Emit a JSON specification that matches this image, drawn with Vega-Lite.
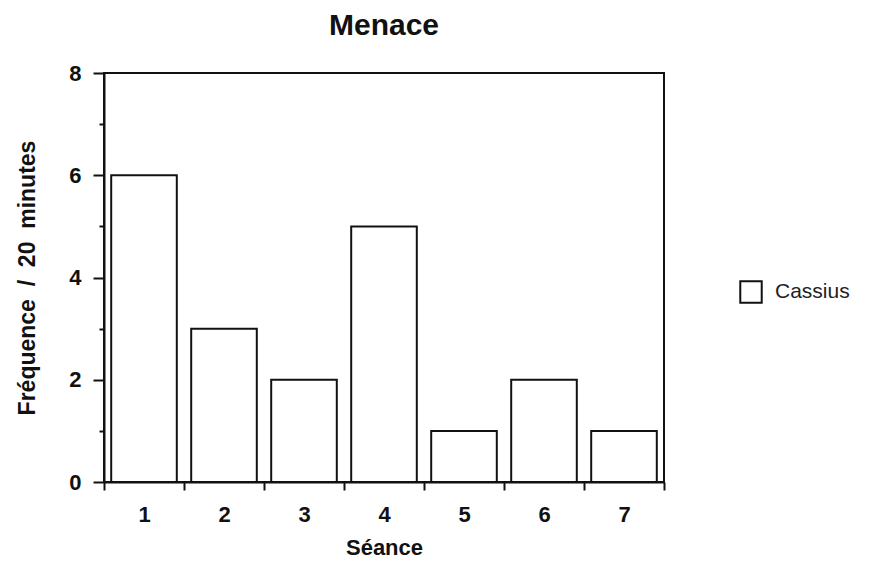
{
  "$schema": "https://vega.github.io/schema/vega-lite/v6.json",
  "width": 560,
  "height": 409,
  "padding": {"left": 16, "top": 11, "right": 5, "bottom": 2},
  "background": "white",
  "title": {"text": "Menace", "fontSize": 30, "font": "Liberation Sans", "fontWeight": "bold", "color": "#111", "offset": 21},
  "config": {
    "view": {"stroke": "#111", "strokeWidth": 2},
    "font": "Liberation Sans"
  },
  "data": {"values": [
    {"seance": "1", "freq": 6, "sujet": "Cassius"},
    {"seance": "2", "freq": 3, "sujet": "Cassius"},
    {"seance": "3", "freq": 2, "sujet": "Cassius"},
    {"seance": "4", "freq": 5, "sujet": "Cassius"},
    {"seance": "5", "freq": 1, "sujet": "Cassius"},
    {"seance": "6", "freq": 2, "sujet": "Cassius"},
    {"seance": "7", "freq": 1, "sujet": "Cassius"}
  ]},
  "mark": {"type": "bar", "stroke": "#111", "strokeWidth": 2, "width": {"band": 0.82}},
  "encoding": {
    "x": {
      "field": "seance", "type": "nominal",
      "scale": {"paddingInner": 0, "paddingOuter": 0},
      "axis": {
        "title": "Séance", "titleFontSize": 22, "titleFontWeight": "bold", "titleColor": "#111", "titlePadding": 12,
        "labelAngle": 0, "labelFontSize": 22, "labelFontWeight": "bold", "labelColor": "#111", "labelPadding": 14,
        "tickBand": "extent", "tickSize": 8, "tickWidth": 2, "tickColor": "#111",
        "domainColor": "#111", "domainWidth": 2
      }
    },
    "y": {
      "field": "freq", "type": "quantitative",
      "scale": {"domain": [0, 8], "nice": false},
      "axis": {
        "title": "Fréquence\u00a0\u00a0/\u00a0\u00a020\u00a0\u00a0minutes", "titleFontSize": 23, "titleFontWeight": "bold", "titleColor": "#111", "titlePadding": 29,
        "values": [0, 1, 2, 3, 4, 5, 6, 7, 8],
        "labelExpr": "datum.value % 2 == 0 ? datum.label : ''",
        "labelFontSize": 22, "labelFontWeight": "bold", "labelColor": "#111", "labelPadding": 12,
        "tickSize": {"condition": {"test": "datum.value % 2 == 1", "value": 5}, "value": 11},
        "tickWidth": 2, "tickColor": "#111",
        "grid": false, "domainColor": "#111", "domainWidth": 2
      }
    },
    "fill": {
      "field": "sujet", "type": "nominal",
      "scale": {"range": ["white"]},
      "legend": {
        "title": null, "orient": "none", "legendX": 635, "legendY": 207,
        "symbolType": "square", "symbolSize": 460, "symbolStrokeColor": "#111", "symbolStrokeWidth": 2,
        "labelFontSize": 21, "labelColor": "#222", "labelOffset": 12
      }
    }
  }
}
